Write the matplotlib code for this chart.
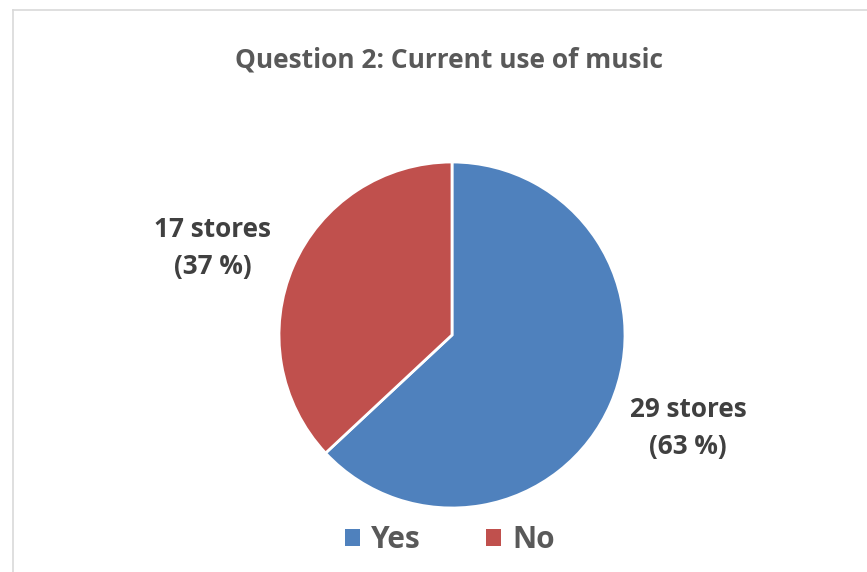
import matplotlib
matplotlib.use("Agg")
import matplotlib.pyplot as plt
from matplotlib.lines import Line2D
from matplotlib.patches import Patch

categories = ["Yes", "No"]
stores = [29, 17]
colors = ["#4f81bd", "#c0504d"]
title = "Question 2: Current use of music"

W, H = 867, 572
fig = plt.figure(figsize=(W / 100, H / 100), dpi=100)
fig.patch.set_facecolor("white")
plt.rcParams["font.family"] = ["Open Sans", "DejaVu Sans"]
title_color = "#595959"
label_color = "#404040"

# chart-area frame (top and left edges visible)
fig.add_artist(Line2D([13 / W, 13 / W], [0, 1 - 10 / H], transform=fig.transFigure,
                      color="#d9d9d9", lw=1.2))
fig.add_artist(Line2D([13 / W, 1], [1 - 10 / H, 1 - 10 / H], transform=fig.transFigure,
                      color="#d9d9d9", lw=1.2))

cx, cy, r = 452, 335, 173
ax = fig.add_axes([(cx - r) / W, 1 - (cy + r) / H, 2 * r / W, 2 * r / H])
wedges, _ = ax.pie(stores, colors=colors, startangle=90, counterclock=False,
                   radius=1.0, wedgeprops=dict(edgecolor="white", linewidth=2))
ax.set_xlim(-1, 1)
ax.set_ylim(-1, 1)
ax.set_aspect("equal")
ax.axis("off")

total = sum(stores)
label_pos = {"Yes": (688, 428), "No": (213, 248)}
for cat, n in zip(categories, stores):
    pct = round(100 * n / total)
    x, y = label_pos[cat]
    fig.text(x / W, 1 - y / H, f"{n} stores\n({pct} %)", ha="center", va="center",
             fontsize=18.8, fontweight="bold", color=label_color, linespacing=1.45)

fig.text(449 / W, 1 - 60 / H, title, ha="center", va="center",
         fontsize=19, fontweight="bold", color=title_color)

handles = [Patch(facecolor=w.get_facecolor(), edgecolor="none") for w in wedges]
leg = fig.legend(handles, categories, loc="center", bbox_to_anchor=(450 / W, 1 - 540 / H),
                 ncol=2, frameon=False, prop=dict(size=21.5, weight="bold"),
                 handlelength=0.5, handleheight=0.5, handletextpad=0.37,
                 columnspacing=2.2)
for t in leg.get_texts():
    t.set_color(title_color)

fig.savefig("out.png", dpi=100, facecolor="white")
